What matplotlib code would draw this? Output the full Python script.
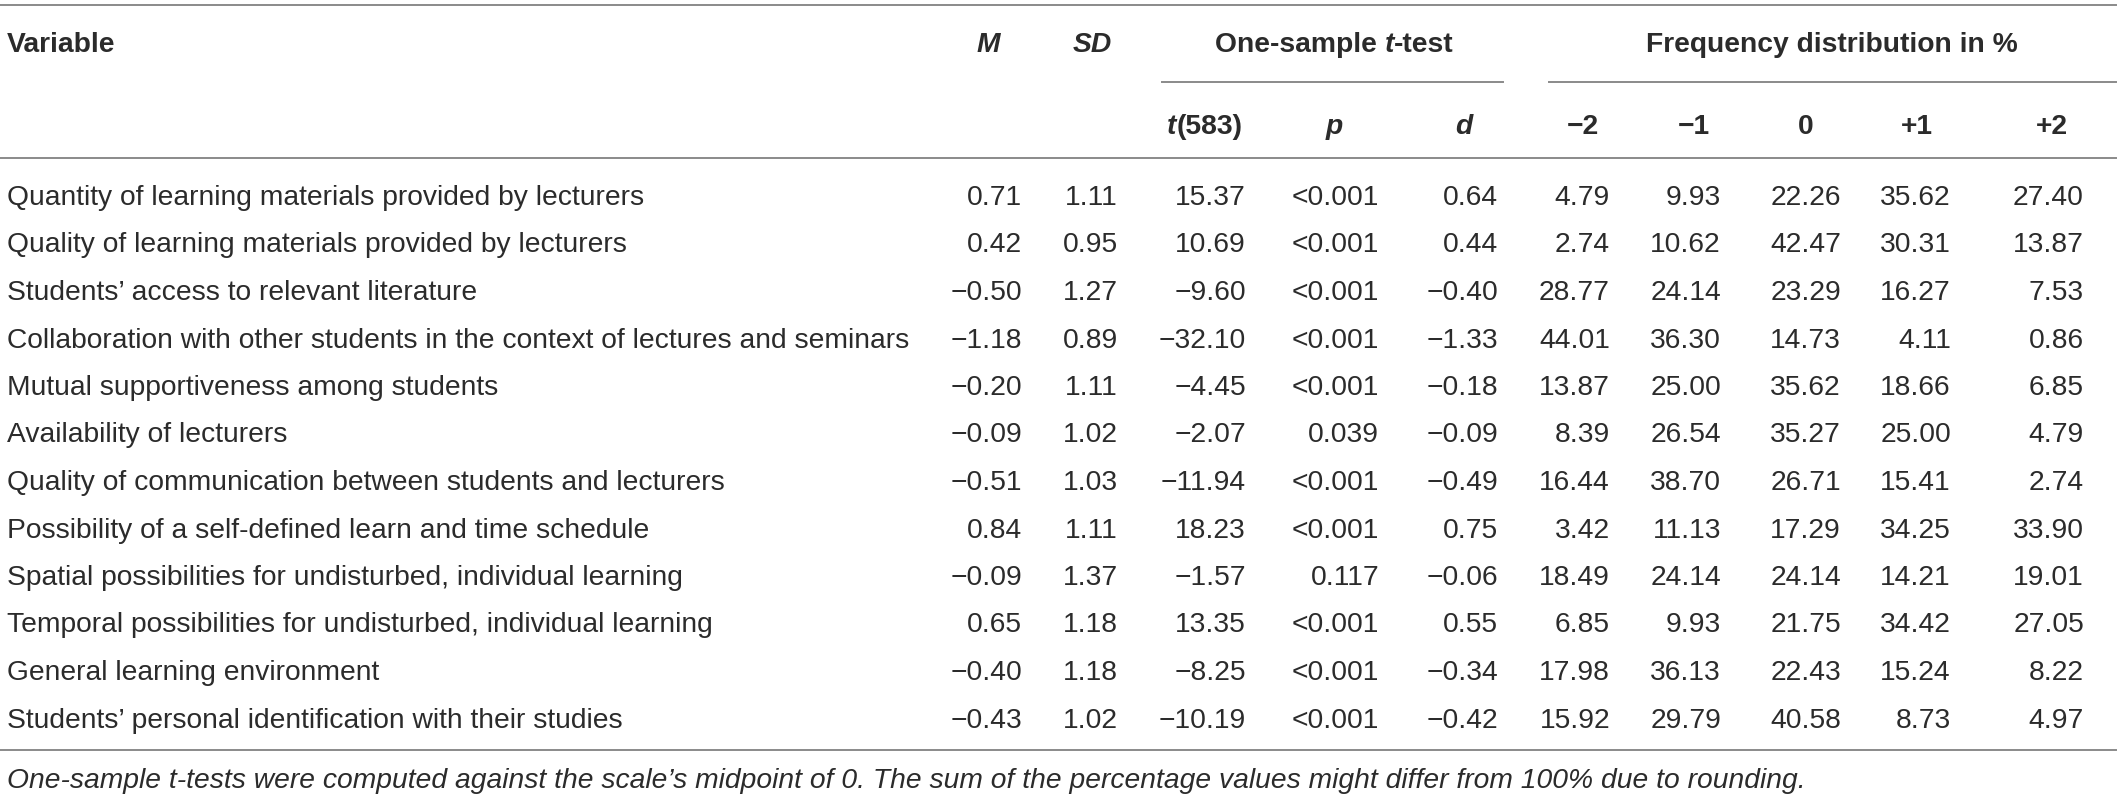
import matplotlib
matplotlib.use("Agg")
import matplotlib.pyplot as plt

plt.rcParams['font.family'] = ['Liberation Sans', 'DejaVu Sans']

# table content
variables = [
    "Quantity of learning materials provided by lecturers",
    "Quality of learning materials provided by lecturers",
    "Students\u2019 access to relevant literature",
    "Collaboration with other students in the context of lectures and seminars",
    "Mutual supportiveness among students",
    "Availability of lecturers",
    "Quality of communication between students and lecturers",
    "Possibility of a self-defined learn and time schedule",
    "Spatial possibilities for undisturbed, individual learning",
    "Temporal possibilities for undisturbed, individual learning",
    "General learning environment",
    "Students\u2019 personal identification with their studies",
]
M = [0.71, 0.42, -0.50, -1.18, -0.20, -0.09, -0.51, 0.84, -0.09, 0.65, -0.40, -0.43]
SD = [1.11, 0.95, 1.27, 0.89, 1.11, 1.02, 1.03, 1.11, 1.37, 1.18, 1.18, 1.02]
t_val = [15.37, 10.69, -9.60, -32.10, -4.45, -2.07, -11.94, 18.23, -1.57, 13.35, -8.25, -10.19]
p_val = ["<0.001", "<0.001", "<0.001", "<0.001", "<0.001", "0.039",
         "<0.001", "<0.001", "0.117", "<0.001", "<0.001", "<0.001"]
d_val = [0.64, 0.44, -0.40, -1.33, -0.18, -0.09, -0.49, 0.75, -0.06, 0.55, -0.34, -0.42]
freq_m2 = [4.79, 2.74, 28.77, 44.01, 13.87, 8.39, 16.44, 3.42, 18.49, 6.85, 17.98, 15.92]
freq_m1 = [9.93, 10.62, 24.14, 36.30, 25.00, 26.54, 38.70, 11.13, 24.14, 9.93, 36.13, 29.79]
freq_0 = [22.26, 42.47, 23.29, 14.73, 35.62, 35.27, 26.71, 17.29, 24.14, 21.75, 22.43, 40.58]
freq_p1 = [35.62, 30.31, 16.27, 4.11, 18.66, 25.00, 15.41, 34.25, 14.21, 34.42, 15.24, 8.73]
freq_p2 = [27.40, 13.87, 7.53, 0.86, 6.85, 4.79, 2.74, 33.90, 19.01, 27.05, 8.22, 4.97]
freq_labels = ["\u22122", "\u22121", "0", "+1", "+2"]
footnote = ("One-sample t-tests were computed against the scale\u2019s midpoint of 0. "
            "The sum of the percentage values might differ from 100% due to rounding.")

W, H = 2118, 799
fig = plt.figure(figsize=(W / 100, H / 100), dpi=100)
ax = fig.add_axes([0, 0, 1, 1])
ax.set_xlim(0, W)
ax.set_ylim(H, 0)
ax.axis("off")

FS = 20.3
TXT = "#2b2b2b"
LINE = "#8a8a8a"


def fmt(v):
    s = "%.2f" % abs(v)
    return ("\u2212" + s) if v < 0 else s


# column right edges and header centres
right_edges = [1022, 1118, 1246, 1379, 1498, 1610, 1721, 1841, 1951, 2084]
head_centres = [988, 1092, 1205, 1334, 1464, 1583, 1694, 1806, 1917, 2052]

# rules
ax.plot([0, 2116], [5, 5], color=LINE, lw=1.4)
ax.plot([0, 2116], [158, 158], color=LINE, lw=1.4)
ax.plot([0, 2116], [750, 750], color=LINE, lw=1.4)
ax.plot([1162, 1503], [82, 82], color=LINE, lw=1.4)
ax.plot([1549, 2116], [82, 82], color=LINE, lw=1.4)

renderer = fig.canvas.get_renderer()


def pieces(x, y, parts):
    # parts: list of (text, style) drawn side by side, centred on x
    objs = [ax.text(0, y, s, fontsize=FS, fontweight="bold", style=st,
                    color=TXT, va="baseline") for s, st in parts]
    inv = ax.transData.inverted()
    widths = []
    for o in objs:
        bb = o.get_window_extent(renderer)
        widths.append(inv.transform((bb.x1, bb.y0))[0] - inv.transform((bb.x0, bb.y0))[0])
    cx = x - sum(widths) / 2
    for o, w in zip(objs, widths):
        o.set_x(cx)
        cx += w


# header row 1
ax.text(7, 52, "Variable", fontsize=FS, fontweight="bold", color=TXT, va="baseline")
ax.text(head_centres[0], 52, "M", fontsize=FS, fontweight="bold", style="italic",
        color=TXT, va="baseline", ha="center")
ax.text(head_centres[1], 52, "SD", fontsize=FS, fontweight="bold", style="italic",
        color=TXT, va="baseline", ha="center")
pieces(1334, 52, [("One-sample ", "normal"), ("t", "italic"), ("-test", "normal")])
ax.text(1832, 52, "Frequency distribution in %", fontsize=FS, fontweight="bold",
        color=TXT, va="baseline", ha="center")

# header row 2
pieces(head_centres[2], 134, [("t", "italic"), ("(583)", "normal")])
ax.text(head_centres[3], 134, "p", fontsize=FS, fontweight="bold", style="italic",
        color=TXT, va="baseline", ha="center")
ax.text(head_centres[4], 134, "d", fontsize=FS, fontweight="bold", style="italic",
        color=TXT, va="baseline", ha="center")
for lab, cx in zip(freq_labels, head_centres[5:]):
    ax.text(cx, 134, lab, fontsize=FS, fontweight="bold", color=TXT,
            va="baseline", ha="center")

# body
for i, name in enumerate(variables):
    y = 205 + i * 47.5
    ax.text(7, y, name, fontsize=FS, color=TXT, va="baseline")
    cells = [fmt(M[i]), fmt(SD[i]), fmt(t_val[i]), p_val[i], fmt(d_val[i]),
             fmt(freq_m2[i]), fmt(freq_m1[i]), fmt(freq_0[i]),
             fmt(freq_p1[i]), fmt(freq_p2[i])]
    for c, xr in zip(cells, right_edges):
        ax.text(xr, y, c, fontsize=FS, color=TXT, va="baseline", ha="right")

ax.text(7, 788, footnote, fontsize=FS, style="italic", color=TXT, va="baseline")

fig.savefig("out.png", dpi=100)
